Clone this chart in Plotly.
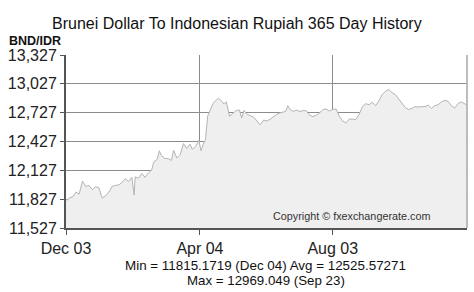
import pandas as pd
import plotly.graph_objects as go

# ---- data ----
start_date = "2024-12-03"
day_offsets = [0, 1, 3, 6, 9, 12, 15, 18, 21, 24, 27, 30, 33, 36, 39, 42, 45, 48, 51, 54,
               57, 60, 62, 63, 66, 69, 72, 75, 78, 80, 83, 85, 87, 90, 93, 96, 98, 101, 104, 107,
               110, 113, 115, 118, 121, 123, 125, 127, 129, 131, 134, 137, 139, 142, 144, 146, 149, 152, 155, 158,
               160, 162, 165, 168, 171, 174, 177, 180, 183, 186, 189, 192, 195, 198, 200, 202, 204, 207, 210, 213,
               216, 219, 222, 225, 228, 231, 234, 237, 240, 243, 246, 249, 252, 255, 258, 261, 264, 267, 270, 273,
               276, 279, 282, 285, 288, 291, 294, 297, 300, 303, 306, 309, 312, 315, 318, 321, 324, 327, 330, 333,
               336, 339, 342, 345, 348, 351, 354, 357, 360, 363, 365]
rates = [11830, 11815.17, 11840, 11850, 11900, 11880, 12015, 11960, 11970, 11925, 11957, 11945, 11840, 11860, 11900, 11960, 11970, 11975, 12000, 12040,
         12010, 12055, 11870, 12060, 12045, 12095, 12055, 12100, 12130, 12215, 12240, 12330, 12280, 12250, 12250, 12230, 12335, 12255, 12290, 12405,
         12355, 12400, 12345, 12375, 12440, 12330, 12400, 12445, 12690, 12740, 12825, 12860, 12877, 12845, 12815, 12840, 12690, 12720, 12750, 12755,
         12670, 12750, 12710, 12695, 12680, 12640, 12600, 12650, 12640, 12660, 12685, 12710, 12725, 12735, 12740, 12800, 12760, 12740, 12755, 12738,
         12750, 12745, 12700, 12686, 12700, 12725, 12760, 12765, 12745, 12760, 12765, 12690, 12640, 12620, 12660, 12660, 12655, 12710, 12790, 12820,
         12810, 12835, 12800, 12850, 12915, 12950, 12969.05, 12935, 12915, 12870, 12825, 12780, 12760, 12770, 12790, 12785, 12790, 12790, 12805, 12772,
         12800, 12810, 12840, 12855, 12845, 12800, 12775, 12820, 12840, 12825, 12807]
assert len(day_offsets) == len(rates)

y_ticks = [11527, 11827, 12127, 12427, 12727, 13027, 13327]
y_tick_labels = ["11,527", "11,827", "12,127", "12,427", "12,727", "13,027", "13,327"]
x_ticks = ["2024-12-03", "2025-04-04", "2025-08-03"]
x_tick_labels = ["Dec 03", "Apr 04", "Aug 03"]

title_text = "Brunei Dollar To Indonesian Rupiah 365 Day History"
pair_text = "<b>BND/IDR</b>"
copyright_text = "Copyright © fxexchangerate.com"
stats_line1 = "Min = 11815.1719 (Dec 04) Avg = 12525.57271"
stats_line2 = "Max = 12969.049 (Sep 23)"

dates = pd.Timestamp(start_date) + pd.to_timedelta(day_offsets, unit="D")

FONT = "Liberation Sans, Arial, sans-serif"

fig = go.Figure()
fig.add_trace(go.Scatter(
    x=dates, y=rates, mode="lines", fill="tozeroy",
    fillcolor="#efefef", line=dict(color="#b4b4b4", width=1),
    hoverinfo="skip", showlegend=False,
))

W, H = 474, 292
L, R, T, B = 66, 7, 55, 64
pw, ph = W - L - R, H - T - B


def px(xp):
    return (xp - L) / pw


def py(yp):
    return (H - B - yp) / ph


fig.update_layout(
    width=W, height=H,
    margin=dict(l=L, r=R, t=T, b=B, pad=0),
    paper_bgcolor="white", plot_bgcolor="white",
    font=dict(family=FONT, color="#222"),
    showlegend=False, hovermode=False,
    xaxis=dict(
        range=["2024-12-03", "2025-12-03 06:00"],
        tickmode="array", tickvals=x_ticks, ticktext=x_tick_labels,
        tickfont=dict(size=16, color="#222"),
        showgrid=True, gridcolor="#8c8c8c", gridwidth=1,
        showline=True, linecolor="#555", linewidth=2,
        ticks="outside", ticklen=5, tickcolor="#555",
        zeroline=False, fixedrange=True,
    ),
    yaxis=dict(
        range=[11527, 13327],
        tickmode="array", tickvals=y_ticks, ticktext=y_tick_labels,
        tickfont=dict(size=16, color="#222"),
        showgrid=True, gridcolor="#8c8c8c", gridwidth=1,
        showline=True, linecolor="#555", linewidth=2,
        ticks="outside", ticklen=4, tickcolor="#555",
        zeroline=False, fixedrange=True,
    ),
    shapes=[dict(type="line", xref="paper", yref="paper", x0=1, x1=1, y0=0, y1=1,
                 line=dict(color="#a8a8a8", width=1.5))],
    annotations=[
        dict(text=title_text, xref="paper", yref="paper", x=px(236.7), y=py(23),
             xanchor="center", yanchor="middle", showarrow=False,
             font=dict(size=16, color="#111", family=FONT)),
        dict(text=pair_text, xref="paper", yref="paper", x=px(7), y=py(40.5),
             xanchor="left", yanchor="middle", showarrow=False,
             font=dict(size=12.5, color="#111", family=FONT)),
        dict(text=copyright_text, xref="paper", yref="paper", x=px(351.8), y=py(216),
             xanchor="center", yanchor="middle", showarrow=False,
             font=dict(size=10.8, color="#333", family=FONT)),
        dict(text=stats_line1, xref="paper", yref="paper", x=px(265.5), y=py(265.5),
             xanchor="center", yanchor="middle", showarrow=False, borderpad=0,
             font=dict(size=13.4, color="#111", family=FONT)),
        dict(text=stats_line2, xref="paper", yref="paper", x=px(265.8), y=py(280),
             xanchor="center", yanchor="middle", showarrow=False, borderpad=0,
             font=dict(size=13.3, color="#111", family=FONT)),
    ],
)

fig.write_html("out.html", config={"displayModeBar": False, "staticPlot": True})
